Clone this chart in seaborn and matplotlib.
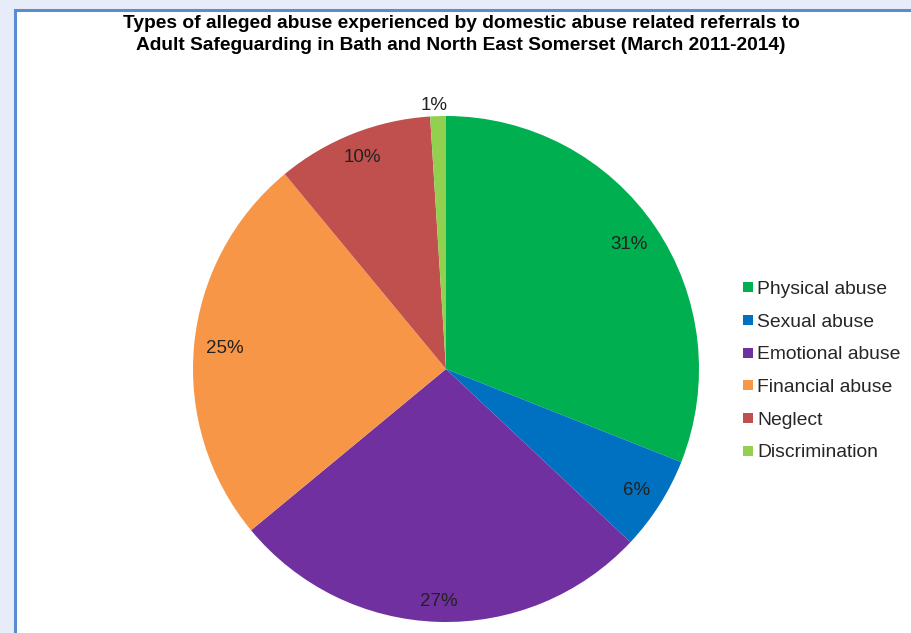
import matplotlib
matplotlib.use("Agg")
import numpy as np
import matplotlib.pyplot as plt
from matplotlib.patches import Rectangle
from matplotlib.lines import Line2D
import seaborn as sns

sns.set_style("white")
plt.rcParams["font.family"] = ["Liberation Sans", "DejaVu Sans"]

categories = ["Physical abuse", "Sexual abuse", "Emotional abuse",
              "Financial abuse", "Neglect", "Discrimination"]
percentages = [31, 6, 27, 25, 10, 1]
colors = ["#00B050", "#0070C0", "#7030A0", "#F79646", "#C0504D", "#92D050"]
title_lines = ["Types of alleged abuse experienced by domestic abuse related referrals to",
               "Adult Safeguarding in Bath and North East Somerset (March 2011-2014)"]

W, H = 912, 633
fig = plt.figure(figsize=(W / 100, H / 100), dpi=100)
fig.patch.set_facecolor("#E7EDF8")

# white chart area with blue border, running off the right and bottom edges
frame = Rectangle((15 / W, -0.05), 1.1, 1.05 - 10 / H, transform=fig.transFigure,
                  facecolor="white", edgecolor="#5B8BD0", linewidth=2.2,
                  zorder=-10, clip_on=False)
fig.patches.append(frame)

for i, line in enumerate(title_lines):
    fig.text(461 / W, 1 - (23 + 23 * i) / H, line, ha="center", va="center",
             fontsize=13.8, fontweight="bold", color="black")

cx, cy, r = 446, 369, 253
ax = fig.add_axes([(cx - r) / W, (H - cy - r) / H, 2 * r / W, 2 * r / H])
ax.set_zorder(2)
ax.set_facecolor("none")
wedges, texts = ax.pie(percentages, colors=colors, startangle=90, counterclock=False,
                       radius=1.0, wedgeprops=dict(linewidth=0),
                       labels=[f"{p}%" for p in percentages], labeldistance=0.885,
                       textprops=dict(fontsize=13.5, color="#222222"))
ax.set_xlim(-1, 1)
ax.set_ylim(-1, 1)
ax.set_aspect("equal")
ax.axis("off")

# "inside end" labels: the label box sits just inside the rim along the mid-angle
fig.canvas.draw()
renderer = fig.canvas.get_renderer()
margin = 11.0
for w, t in zip(wedges, texts):
    t.set_ha("center")
    t.set_va("center")
    t.set_clip_on(False)
    theta = np.deg2rad((w.theta1 + w.theta2) / 2)
    bb = t.get_window_extent(renderer)
    support = abs(np.cos(theta)) * bb.width / 2 + abs(np.sin(theta)) * bb.height / 2
    dist = (r - margin - support) / r
    t.set_position((dist * np.cos(theta), dist * np.sin(theta)))
# the thin slice's label goes just outside the rim
texts[-1].set_position((-0.045, 1.043))

handles = [Line2D([], [], marker="s", linestyle="none", markersize=7,
                  markerfacecolor=c, markeredgewidth=0) for c in colors]
fig.legend(handles, categories, loc="center left",
           bbox_to_anchor=(732 / W, 1 - 371 / H), frameon=False,
           fontsize=13.9, labelspacing=0.784, handletextpad=0.0,
           handlelength=0.9, borderaxespad=0)

fig.savefig("out.png", dpi=100)
